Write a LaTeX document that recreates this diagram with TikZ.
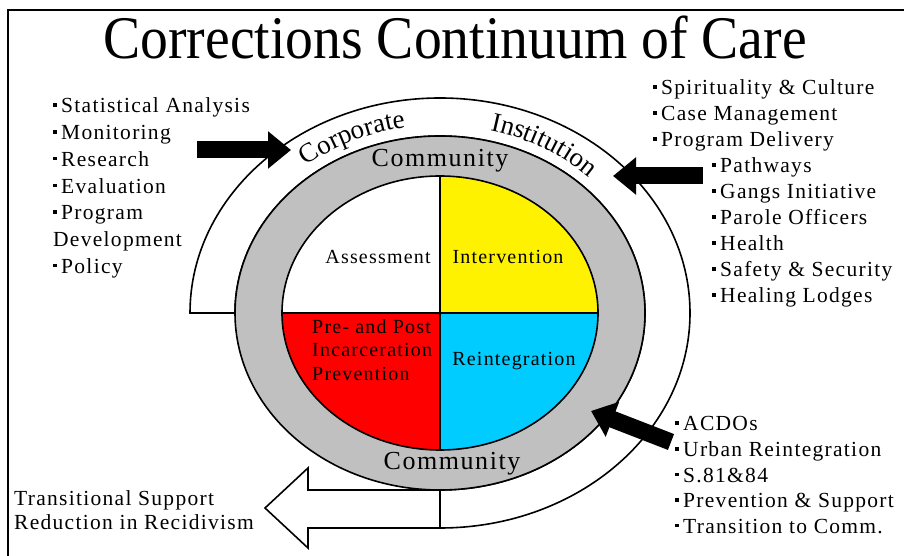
\documentclass[tikz,border=0pt]{standalone}
\usepackage{fontspec}
\setmainfont{Liberation Serif}
\newfontfamily\spacedfont[LetterSpace=6]{Liberation Serif}
\newfontfamily\titlefont[FakeStretch=0.92]{Liberation Serif}
\usepackage{tikz}
\usetikzlibrary{arrows.meta,decorations.text}
\definecolor{ringgray}{RGB}{192,192,192}
\definecolor{reintblue}{RGB}{0,204,255}
\newcommand\sqbul{\rule[6pt]{4pt}{3.5pt}\hspace{4pt}}
\tikzset{
  listitem/.style={anchor=base west, inner sep=0pt, font=\spacedfont\fontsize{21.5}{24}\selectfont},
  quadlabel/.style={inner sep=0pt, font=\spacedfont\fontsize{20}{23.5}\selectfont},
  ringlabel/.style={inner sep=0pt, anchor=base, font=\spacedfont\fontsize{26}{30}\selectfont},
  band/.style={draw, line width=1.6pt, fill=white},
  quarter/.style={draw, line width=1.6pt},
  pointer/.style={line width=17pt, -{Triangle[length=23pt,width=36pt]}}
}
\begin{document}
\begin{tikzpicture}[x=1pt,y=1pt]
 	\useasboundingbox (0,0) rectangle (904,556);
 	%frame
 	\draw[line width=1.5pt] (8,0) -- (8,546) -- (904,546);
 	\node[font=\titlefont\fontsize{60.5}{62}\selectfont, anchor=base] (title) at (455,497) {Corrections Continuum of Care};
 	%outer band and exit arrow
 	\draw[band] (190,243) arc[start angle=180, end angle=-90, x radius=250, y radius=215] -- (440,66) arc[start angle=-90, end angle=180, x radius=205, y radius=177] -- cycle;
 	\draw[band] (440,66) -- (308,66) -- (308,88) -- (265,48) -- (308,8) -- (308,28) -- (440,28) -- cycle;
 	%community ring
 	\coordinate (C) at (440,243);
 	\draw[quarter, fill=ringgray] (C) ellipse[x radius=205, y radius=177];
 	\draw[quarter, fill=white] (C) -- (440,380) arc[start angle=90, end angle=180, x radius=158, y radius=137] -- cycle;
 	\draw[quarter, fill=yellow] (C) -- (440,380) arc[start angle=90, end angle=0, x radius=158, y radius=137] -- cycle;
 	\draw[quarter, fill=red] (C) -- (440,106) arc[start angle=-90, end angle=-180, x radius=158, y radius=137] -- cycle;
 	\draw[quarter, fill=reintblue] (C) -- (440,106) arc[start angle=-90, end angle=0, x radius=158, y radius=137] -- cycle;
 	%band labels
 	\path[decorate, decoration={text along path, text align=center, text={|\fontsize{27}{30}\selectfont|Corporate}}] (C) ++(134:215 and 188) arc[start angle=134, end angle=94, x radius=215, y radius=188];
 	\path[decorate, decoration={text along path, text align=center, text={|\fontsize{27}{30}\selectfont|Institution}}] (C) ++(84:215 and 188) arc[start angle=84, end angle=38, x radius=215, y radius=188];
 	\node[ringlabel] (commtop) at (440,389) {Community};
 	\node[ringlabel] (commbot) at (452,86) {Community};
 	%quadrants
 	\node[quadlabel, anchor=base] (assess) at (378,292) {Assessment};
 	\node[quadlabel, anchor=base] (interv) at (508,292) {Intervention};
 	\node[quadlabel, anchor=base] (reint) at (514,190) {Reintegration};
 	\node[quadlabel, anchor=north west, align=left] (prev) at (312,237) {Pre- and Post\\Incarceration\\Prevention};
 	%Corporate list
 	\foreach \txt [count=\i] in {{\sqbul Statistical Analysis},{\sqbul Monitoring},{\sqbul Research},{\sqbul Evaluation},{\sqbul Program},{Development},{\sqbul Policy}}
 	  \node[listitem] (corp\i) at (53,{443-26.7*(\i-1)}) {\txt};
 	%Institution list
 	\foreach \txt [count=\i] in {Spirituality \& Culture,Case Management,Program Delivery}
 	  \node[listitem] (inst\i) at (653,{461-26*(\i-1)}) {\sqbul\txt};
 	\foreach \txt [count=\i] in {Pathways,Gangs Initiative,Parole Officers,Health,Safety \& Security,Healing Lodges}
 	  \node[listitem] (prog\i) at (712,{383-26*(\i-1)}) {\sqbul\txt};
 	%Community list
 	\foreach \txt [count=\i] in {ACDOs,Urban Reintegration,S.81\&84,Prevention \& Support,Transition to Comm.}
 	  \node[listitem] (comm\i) at (675,{125-25.6*(\i-1)}) {\sqbul\txt};
 	%exit
 	\node[listitem] (trans) at (14,50) {Transitional Support};
 	\node[listitem] (recid) at (14,26) {Reduction in Recidivism};
 	%pointers
 	\coordinate (corptail) at (197,406);
 	\coordinate (corphead) at (291,406);
 	\coordinate (insttail) at (703,380);
 	\coordinate (insthead) at (613,380);
 	\coordinate (commtail) at (671,114);
 	\coordinate (commhead) at (591,145);
 	\draw[pointer] (corptail) -- (corphead);
 	\draw[pointer] (insttail) -- (insthead);
 	\draw[pointer] (commtail) -- (commhead);
\end{tikzpicture}
\end{document}
